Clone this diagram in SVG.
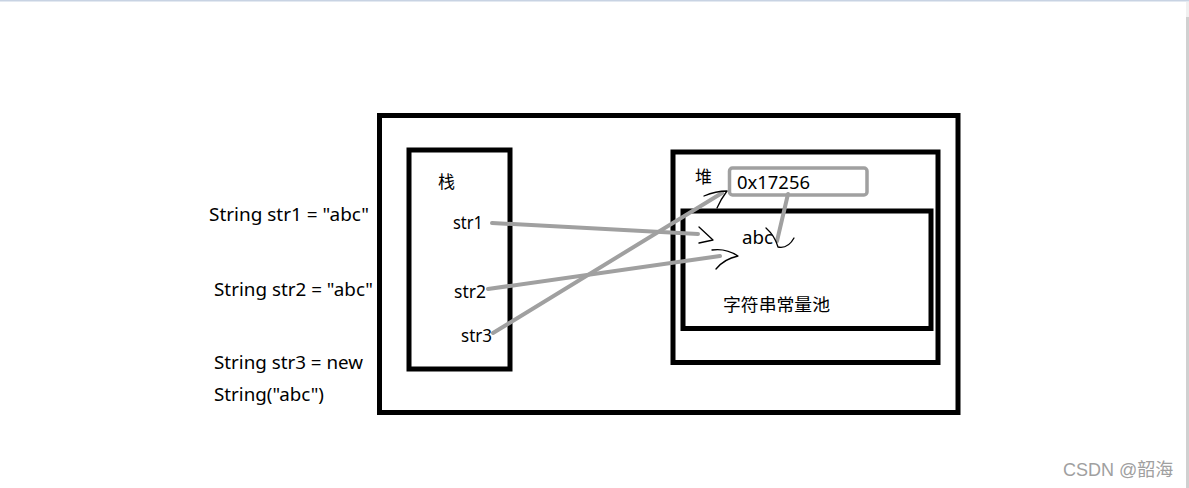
<svg xmlns="http://www.w3.org/2000/svg" width="1189" height="488" viewBox="0 0 1189 488">
<style>
.box{fill:none;stroke:#000;stroke-width:5}
.t{font-family:"Noto Sans","Liberation Sans","Noto Sans CJK SC",sans-serif;font-size:18px;fill:#000}
.cjk{font-family:"Noto Sans CJK SC","Noto Sans",sans-serif;font-size:17px;fill:#000}
.gray{fill:none;stroke:#a0a0a0;stroke-width:4;stroke-linecap:round}
.pen{fill:none;stroke:#000;stroke-width:1.3;stroke-linecap:round;stroke-linejoin:round}
</style>
<rect x="0" y="0" width="1189" height="488" fill="#fff"/>
<rect x="0" y="0" width="1189" height="1.5" fill="#c8d3e3"/>
<rect x="1186" y="2" width="3" height="15" fill="#f0f0f0"/>
<rect x="1186" y="17" width="3" height="471" fill="#d0d0d0"/>

<g id="code">
<text class="t" x="209" y="221" textLength="160" lengthAdjust="spacingAndGlyphs">String str1 = "abc"</text>
<text class="t" x="214" y="296" textLength="159" lengthAdjust="spacingAndGlyphs">String str2 = "abc"</text>
<text class="t" x="214" y="369" textLength="149" lengthAdjust="spacingAndGlyphs">String str3 = new</text>
<text class="t" x="214" y="401" textLength="110" lengthAdjust="spacingAndGlyphs">String("abc")</text>
</g>

<g id="memory">
<rect class="box" x="379.5" y="115.5" width="578.5" height="297"/>
</g>

<g id="stack">
<rect class="box" x="409" y="150" width="101" height="219"/>
<text class="cjk" x="438" y="188">栈</text>
<text class="t" x="453" y="229" textLength="30" lengthAdjust="spacingAndGlyphs">str1</text>
<text class="t" x="454" y="298" textLength="32" lengthAdjust="spacingAndGlyphs">str2</text>
<text class="t" x="461" y="342" textLength="31" lengthAdjust="spacingAndGlyphs">str3</text>
</g>

<g id="heap">
<rect class="box" x="673" y="152" width="265" height="210.5"/>
<text class="cjk" x="695" y="183">堆</text>
</g>

<g id="address">
<rect x="729.5" y="168" width="137.5" height="27" rx="3" fill="none" stroke="#a0a0a0" stroke-width="3.5"/>
<text class="t" x="737" y="189" textLength="73" lengthAdjust="spacingAndGlyphs">0x17256</text>
</g>

<g id="pool">
<rect class="box" x="683" y="211" width="248" height="117.5"/>
<text class="t" x="742" y="244" textLength="31" lengthAdjust="spacingAndGlyphs">abc</text>
<text class="cjk" x="723" y="311" textLength="107" lengthAdjust="spacingAndGlyphs">字符串常量池</text>
</g>

<g id="connectors">
<line class="gray" x1="492" y1="223" x2="698" y2="234"/>
<line class="gray" x1="488" y1="289" x2="720" y2="256"/>
<line class="gray" x1="493" y1="333" x2="722" y2="193"/>
<line class="gray" x1="788" y1="194" x2="777" y2="241"/>
<path class="pen" d="M699,227 L713,240 L699,243"/>
<path class="pen" d="M712,250 Q726,248 738,256 Q724,259 716,269"/>
<path class="pen" d="M704,196 Q716,191 727,191 Q721,199 717,208"/>
<path class="pen" d="M766,228 Q775,236 778,247 Q788,249 794,238"/>
</g>

<text x="1063" y="476" font-family="'Liberation Sans','Noto Sans CJK SC',sans-serif" font-size="18" fill="#a0a0a0">CSDN @韶海</text>
</svg>
